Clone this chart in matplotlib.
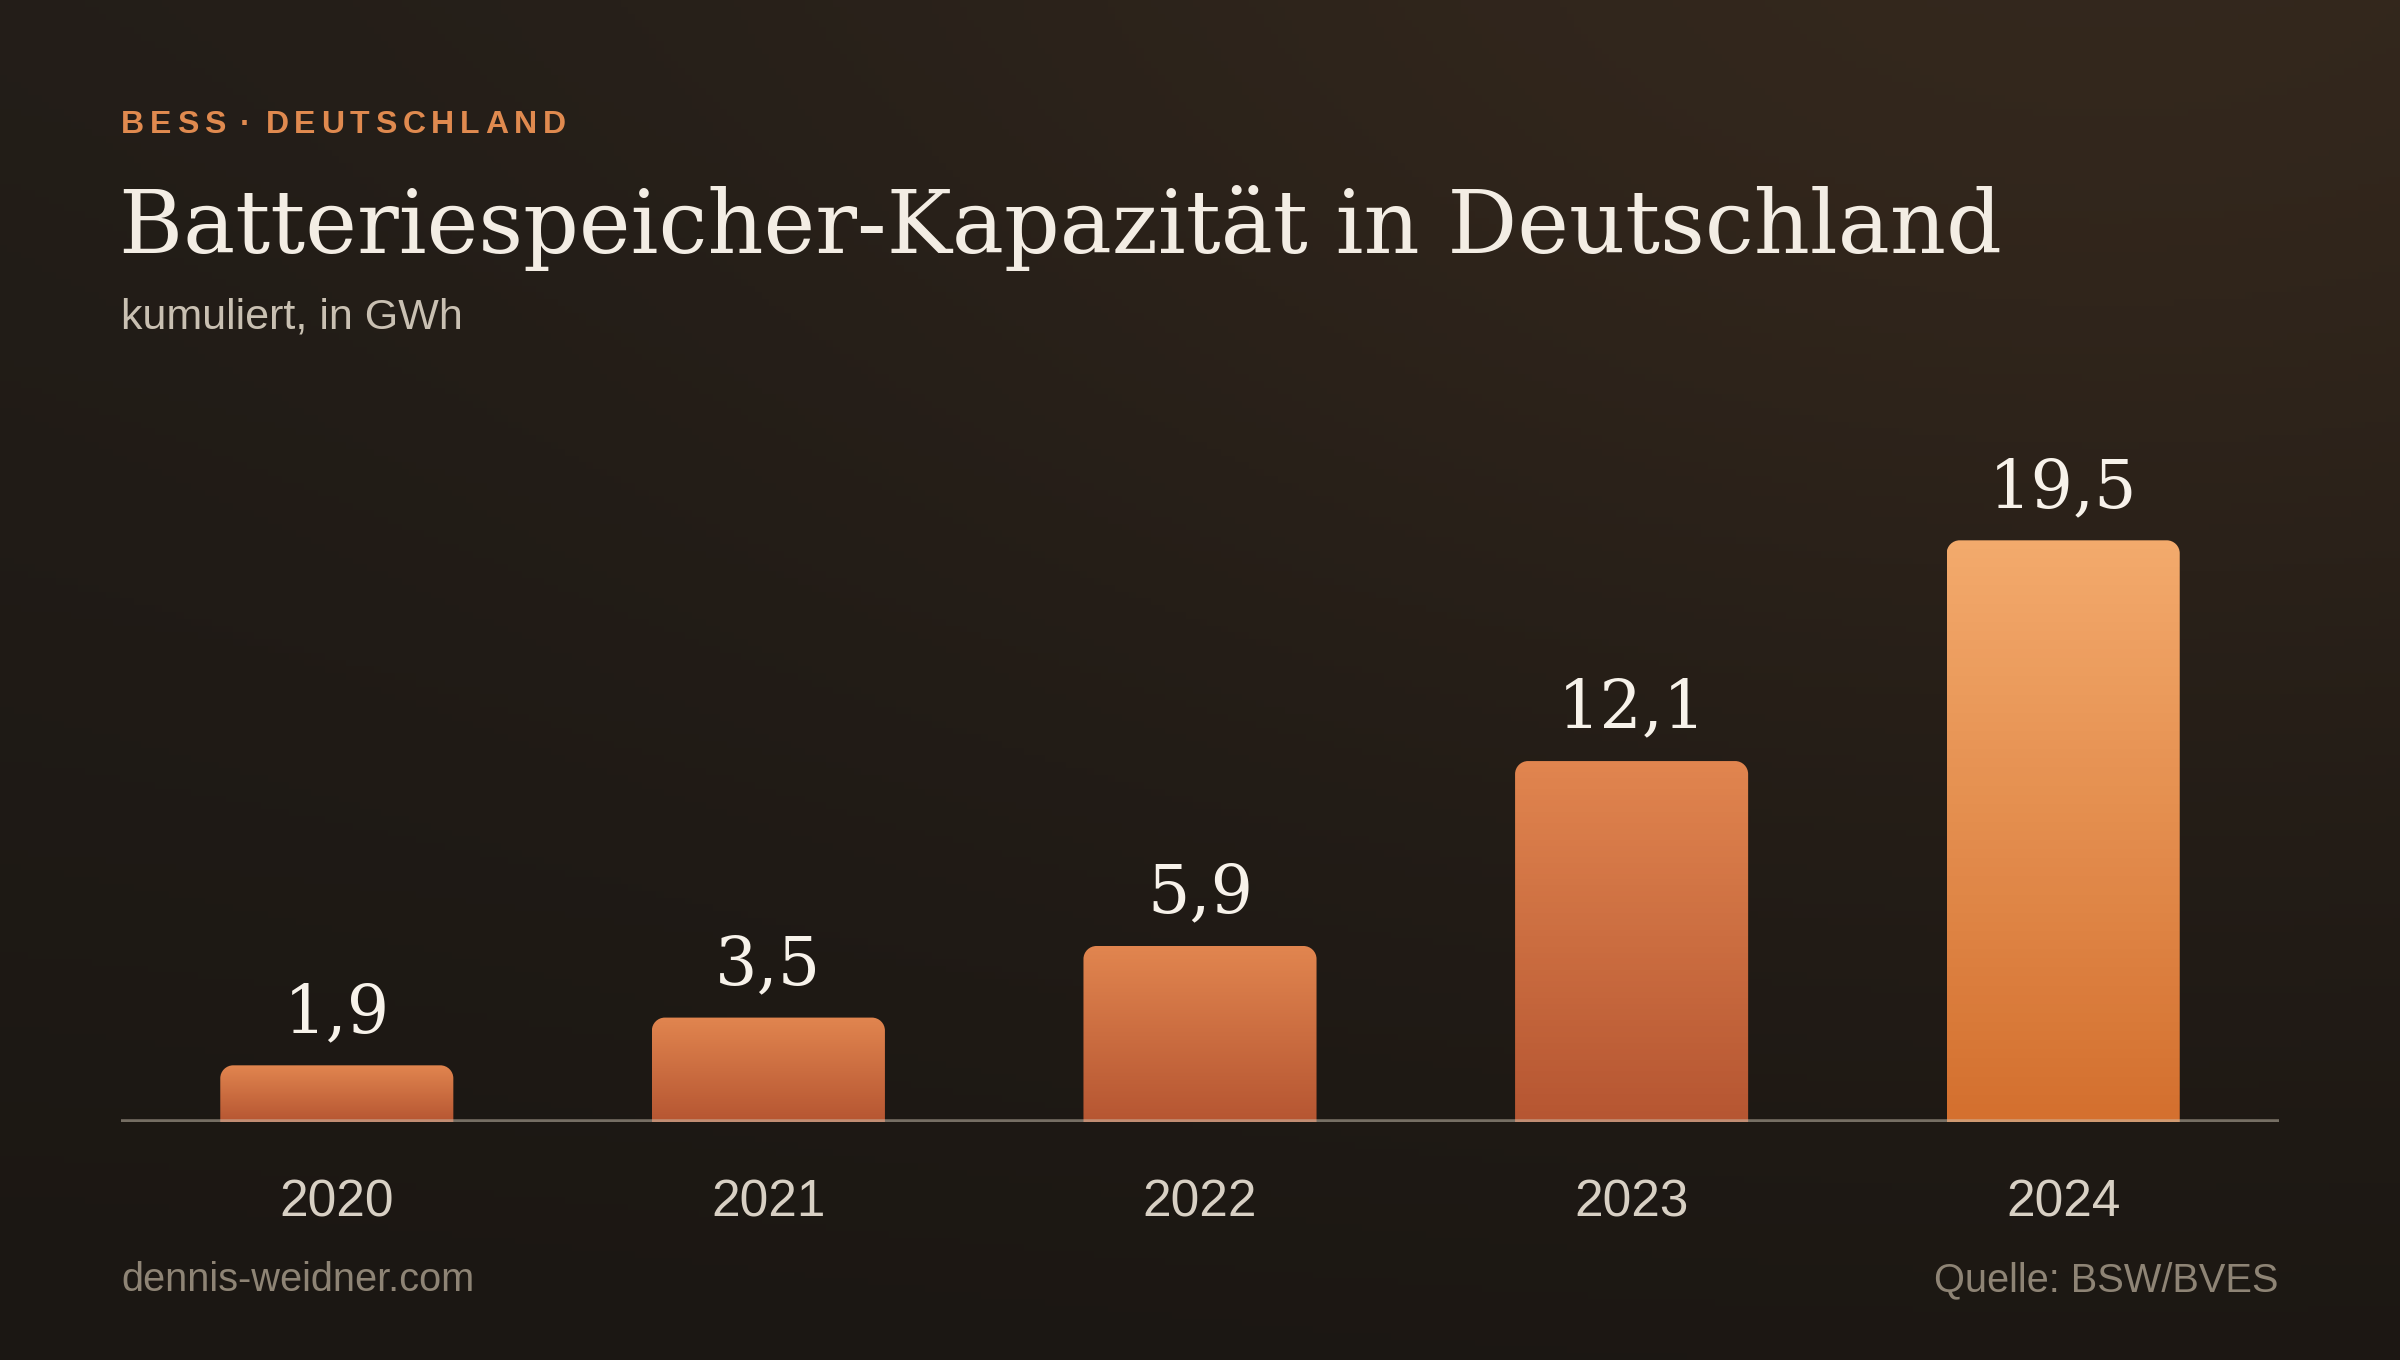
import numpy as np
import matplotlib
matplotlib.use("Agg")
import matplotlib.pyplot as plt
from matplotlib.path import Path
from matplotlib.patches import PathPatch
from matplotlib.colors import to_rgb

# data
years = ["2020", "2021", "2022", "2023", "2024"]
values = [1.9, 3.5, 5.9, 12.1, 19.5]
value_labels = ["1,9", "3,5", "5,9", "12,1", "19,5"]

tag = "BESS · DEUTSCHLAND"
title = "Batteriespeicher-Kapazität in Deutschland"
subtitle = "kumuliert, in GWh"
footer_left = "dennis-weidner.com"
footer_right = "Quelle: BSW/BVES"

W, H, DPI = 2400, 1360, 200
SERIF = ["DejaVu Serif"]
SANS = ["Liberation Sans", "DejaVu Sans"]

fig = plt.figure(figsize=(W / DPI, H / DPI), dpi=DPI)

# background: dark vertical gradient + warm glow top right
bg = fig.add_axes([0, 0, 1, 1])
bg.set_axis_off()
yy, xx = np.mgrid[0:1:200j, 0:1:340j]
top = np.array(to_rgb("#221d18"))
bot = np.array(to_rgb("#1b1713"))
img = top[None, None, :] * (1 - yy[..., None]) + bot[None, None, :] * yy[..., None]
d2 = ((xx - 0.88) / 0.55) ** 2 + ((yy - 0.0) / 0.6) ** 2
glow = np.exp(-d2)[..., None] * np.array([0.07, 0.042, 0.02])
img = np.clip(img + glow, 0, 1)
bg.imshow(img, extent=[0, 1, 0, 1], aspect="auto", origin="upper")
bg.set_xlim(0, 1)
bg.set_ylim(0, 1)

# chart axes
ax_l, ax_r = 121 / W, 2279 / W
ax_b, ax_t = (H - 1122) / H, (H - 400) / H
ax = fig.add_axes([ax_l, ax_b, ax_r - ax_l, ax_t - ax_b])
ax.patch.set_alpha(0)
ax.set_axis_off()
ymax = 722 / 29.83
ax.set_xlim(-0.5, len(years) - 0.5)
ax.set_ylim(0, ymax)

bar_w = 0.54
px_x = (ax_r - ax_l) * W / len(years)   # px per x unit
px_y = (ax_t - ax_b) * H / ymax         # px per y unit
rx, ry = 13 / px_x, 13 / px_y
k = 0.5523

def rounded_top(x0, x1, h):
    verts = [(x0, 0), (x0, h - ry),
             (x0, h - ry + k * ry), (x0 + rx - k * rx, h), (x0 + rx, h),
             (x1 - rx, h),
             (x1 - rx + k * rx, h), (x1, h - ry + k * ry), (x1, h - ry),
             (x1, 0), (x0, 0)]
    codes = [Path.MOVETO, Path.LINETO,
             Path.CURVE4, Path.CURVE4, Path.CURVE4,
             Path.LINETO,
             Path.CURVE4, Path.CURVE4, Path.CURVE4,
             Path.LINETO, Path.CLOSEPOLY]
    return Path(verts, codes)

normal = (to_rgb("#b65632"), to_rgb("#e1854f"))
highlight = (to_rgb("#d4702f"), to_rgb("#f3aa6c"))

for i, v in enumerate(values):
    lo, hi = highlight if i == len(values) - 1 else normal
    t = np.linspace(1, 0, 64)[:, None]
    grad = np.array(lo)[None, :] * (1 - t) + np.array(hi)[None, :] * t
    grad = np.repeat(grad[:, None, :], 2, axis=1)
    x0, x1 = i - bar_w / 2, i + bar_w / 2
    patch = PathPatch(rounded_top(x0, x1, v), facecolor="none", edgecolor="none")
    ax.add_patch(patch)
    im = ax.imshow(grad, extent=[x0, x1, 0, v], aspect="auto", origin="upper", zorder=2)
    im.set_clip_path(patch)
    ax.annotate(value_labels[i], (i, v), xytext=(0, 12), textcoords="offset points",
                ha="center", va="baseline", fontsize=24, family=SERIF,
                color="#f7f2ea", zorder=4)

ax.set_xlim(-0.5, len(years) - 0.5)
ax.set_ylim(0, ymax)
ax.axhline(0, color="#cfc5b4", alpha=0.5, lw=2.0, zorder=3)

for i, yr in enumerate(years):
    ax.annotate(yr, (i, 0), xytext=(0, -34), textcoords="offset points",
                ha="center", va="baseline", fontsize=18.5, family=SANS, color="#d8d0c4")

# header text
fig.canvas.draw()
r = fig.canvas.get_renderer()
x = ax_l
for ch in tag:
    if ch == " ":
        x += 9 / W
        continue
    t = fig.text(x, 1 - 133 / H, ch, fontsize=11.5, fontweight="bold", family=SANS,
                 color="#e08a4f", va="baseline", ha="left")
    x += (t.get_window_extent(r).width + 5.7) / W

fig.text(ax_l - 2 / W, 1 - 253 / H, title, fontsize=31.4, family=SERIF, color="#f3ede4",
         va="baseline", ha="left")
fig.text(ax_l, 1 - 328 / H, subtitle, fontsize=15.5, family=SANS, color="#c9c0b2",
         va="baseline", ha="left")

fig.text(ax_l, 1 - 1291 / H, footer_left, fontsize=14.3, family=SANS, color="#8e8475",
         va="baseline", ha="left")
fig.text(ax_r, 1 - 1291 / H, footer_right, fontsize=14.3, family=SANS, color="#8e8475",
         va="baseline", ha="right")

fig.savefig("out.png", dpi=DPI)
